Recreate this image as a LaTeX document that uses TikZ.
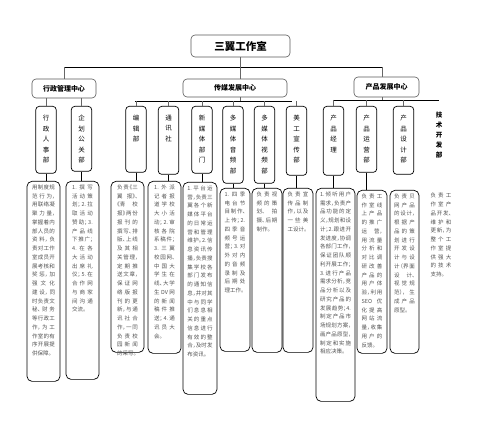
\documentclass[tikz,border=0pt]{standalone}
\usepackage{fontspec}
\setmainfont{Noto Sans CJK SC}
% narrow columns: half-width punctuation keeps about three characters per line
\newfontfamily\narrowcjk{Noto Sans CJK SC}[RawFeature=+halt]
\XeTeXlinebreaklocale "zh"
\XeTeXlinebreakskip=0pt plus 1pt

\begin{document}
\begin{tikzpicture}[x=1pt,y=-1pt,
  hub/.style={draw=black!65, line width=0.6pt, rounded corners=4pt, inner sep=0pt, font=\bfseries\fontsize{7}{8}\selectfont},
  topbox/.style={hub, font=\bfseries\fontsize{10.5}{12}\selectfont},
  dept/.style={draw=black, line width=0.7pt, rounded corners=3.5pt, inner sep=0pt, anchor=north, minimum width=20.5pt},
  vtext/.style={anchor=north, align=center, inner sep=0pt, font=\fontsize{6.5}{10.5}\selectfont},
  desc/.style={draw=black, line width=0.7pt, rounded corners=5pt, inner sep=0pt, anchor=north},
  dtext/.style={anchor=north, align=justify, inner sep=0pt, text=black!68, text width=20.6pt, font=\narrowcjk\fontsize{5.5}{8.75}\selectfont},
  link/.style={draw=black!60, line width=0.5pt},
  bus/.style={draw=black, line width=0.9pt}
]
\useasboundingbox (0,0) rectangle (496,425);

% ---------- top level ----------
\node[topbox, minimum width=99pt, minimum height=22pt] (top) at (240.5,46) {三翼工作室};

\node[hub, minimum width=64pt, minimum height=19pt] (xz) at (64,88.5) {行政管理中心};
\node[hub, minimum width=104pt, minimum height=18pt] (cm) at (235,88) {传媒发展中心};
\node[hub, minimum width=65pt, minimum height=20pt] (cp) at (386.5,87) {产品发展中心};

\coordinate (busL) at (64,67.3);
\coordinate (busR) at (382,67.3);
\draw[link] (top.south -| 240.7,0) -- (240.7,67.3);
\draw[bus] (busL) -- (busR);
\draw[link] (busL) -- (xz.north -| busL);
\draw[link] (240.7,67.3) -- (cm.north -| 240.7,0);
\draw[link] (busR) -- (cp.north -| busR);

% ---------- departments ----------
\node[dept, minimum height=67pt] (xzrs) at (46,106) {};
\node[vtext] at ([yshift=-9pt]xzrs.north) {行\\政\\人\\事\\部};
\node[dept, minimum height=65pt] (qhgg) at (81.5,106) {};
\node[vtext] at ([yshift=-9pt]qhgg.north) {企\\划\\公\\关\\部};

\node[dept, minimum height=66pt] (bjb) at (136,106) {};
\node[vtext] at ([yshift=-9pt]bjb.north) {编\\辑\\部};
\node[dept, minimum height=68pt] (txs) at (168.5,106) {};
\node[vtext] at ([yshift=-9pt]txs.north) {通\\讯\\社};
\node[dept, minimum height=67pt] (xmt) at (202,106) {};
\node[vtext] at ([yshift=-9pt]xmt.north) {新\\媒\\体\\部\\门};
\node[dept, minimum height=77pt] (ypb) at (233,106) {};
\node[vtext] at ([yshift=-9pt]ypb.north) {多\\媒\\体\\音\\频\\部};
\node[dept, minimum height=77pt] (spb) at (264.5,106) {};
\node[vtext] at ([yshift=-9pt]spb.north) {多\\媒\\体\\视\\频\\部};
\node[dept, minimum height=69pt] (mgb) at (296.5,106) {};
\node[vtext] at ([yshift=-9pt]mgb.north) {美\\工\\宣\\传\\部};

\node[dept, minimum height=69pt] (cpjl) at (333.5,106) {};
\node[vtext] at ([yshift=-9pt]cpjl.north) {产\\品\\经\\理};
\node[dept, minimum height=66pt] (cpyy) at (366.5,106) {};
\node[vtext] at ([yshift=-9pt]cpyy.north) {产\\品\\运\\营\\部};
\node[dept, minimum height=68pt] (cpsj) at (403.5,106) {};
\node[vtext] at ([yshift=-9pt]cpsj.north) {产\\品\\设\\计\\部};
\node[vtext, font=\bfseries\fontsize{6.5}{10}\selectfont] (jskf) at (439,112) {技\\术\\开\\发\\部};

% ---------- links centre -> departments ----------
\draw[link] (xzrs.north |- xz.south) -- (xzrs.north);
\draw[link] (qhgg.north |- xz.south) -- (qhgg.north);

\coordinate (cmbL) at (135,101);
\coordinate (cmbR) at (292,101);
\draw[bus, line width=0.8pt] (cmbL) -- (cmbR);
\draw[link] (cm.south -| 240.7,0) -- (240.7,101);
\foreach \d in {bjb,txs,xmt,ypb,spb,mgb}
  \draw[link] (\d.north |- cmbL) -- (\d.north);

\coordinate (cpbL) at (334,100);
\coordinate (cpbR) at (439,100);
\draw[bus, line width=0.8pt] (cpbL) -- (cpbR);
\draw[link] (cp.south -| 382,0) -- (382,100);
\foreach \d in {cpjl,cpyy,cpsj}
  \draw[link] (\d.north |- cpbL) -- (\d.north);

% ---------- duty descriptions ----------
\node[desc, minimum width=33pt, minimum height=200pt] (xzrsd) at (43.5,181) {};
\node[dtext, text width=23pt] at ([yshift=-3.5pt]xzrsd.north) {用制度规范行为，用联络凝聚力量，掌握着内部人员的资料，负责对工作室成员开展考核和奖惩，加强文化建设，同时负责文秘、财务等行政工作，为工作室的有序开展提供保障。};

\node[desc, minimum width=33pt, minimum height=198pt] (qhggd) at (82.5,181) {};
\node[dtext] at ([yshift=-3.5pt]qhggd.north) {1.撰写活动策划；2.拉取活动赞助；3.产品线下推广；4.在各大活动出席礼仪；5.在合作网与商家间沟通交流。};

\node[desc, minimum width=33pt, minimum height=171pt] (bjbd) at (127.5,181) {};
\node[dtext] at ([yshift=-3.5pt]bjbd.north) {负责《三翼报》、《青校报》两份报刊的撰写、排版、上线及其相关管理，定期推送文章，保证网络版报刊的更新，与通讯社合作，一同负责校园新闻的采写。};

\node[desc, minimum width=33pt, minimum height=172pt] (txsd) at (164.5,181) {};
\node[dtext] at ([yshift=-3.5pt]txsd.north) {1.外派记者报道学校大小活动；2.审核各院系稿件；3.三翼校园网、中国大学生在线、大学生DV网的新闻稿件推送；4.通讯员大会。};

\node[desc, minimum width=34pt, minimum height=212pt] (xmtd) at (200,182) {};
\node[dtext, text width=25.5pt] at ([yshift=-3.5pt]xmtd.north) {1.平台运营，负责三翼各个新媒体平台的日常运营和管理维护。2.信息资讯传播，负责搜集学校各部门发布的通知信息，并对其中与同学们息息相关的重点信息进行有效的整合，及时发布资讯。};

\node[desc, minimum width=30pt, minimum height=163pt] (ypbd) at (235,188) {};
\node[dtext] at ([yshift=-3.5pt]ypbd.north) {1.四季电台节目制作、上传；2.四季音频号运营；3.对外对内的音频录制及后期处理工作。};

\node[desc, minimum width=30pt, minimum height=164pt] (spbd) at (267,188) {};
\node[dtext] at ([yshift=-3.5pt]spbd.north) {负责视频的策划、拍摄、后期制作。};

\node[desc, minimum width=30pt, minimum height=164pt] (mgbd) at (298,188) {};
\node[dtext] at ([yshift=-3.5pt]mgbd.north) {负责宣传品制作，以及一些美工设计。};

\node[desc, minimum width=39pt, minimum height=213pt] (cpjld) at (335.5,188) {};
\node[dtext, text width=31pt] at ([yshift=-3.5pt]cpjld.north) {1.倾听用户需求，负责产品功能的定义，规划和设计；2.跟进开发进度，协调各部门工作，保证团队顺利开展工作；3.进行产品需求分析，竞品分析以及研究产品的发展趋势；4.制定产品市场规划方案，画产品原型，制定和实施相应决策。};

\node[desc, minimum width=30pt, minimum height=163pt] (cpyyd) at (372,190) {};
\node[dtext] at ([yshift=-3.5pt]cpyyd.north) {负责工作室线上产品的推广运营，用流量分析和对比调研改善产品的用户体验，利用SEO优化提高网站流量，收集用户的反馈。};

\node[desc, minimum width=29pt, minimum height=163pt] (cpsjd) at (404.5,190) {};
\node[dtext] at ([yshift=-3.5pt]cpsjd.north) {负责贝网产品的设计，根据产品的策划进行开发设计与设计（界面设计、视觉规范），生成产品原型。};

\node[dtext] (jskfd) at (441,193) {负责工作室产品开发、维护和更新，为整个工作室提供强大的技术支持。};

% ---------- links departments -> descriptions ----------
\foreach \d in {xzrs,qhgg,bjb,txs,xmt,ypb,spb,mgb,cpjl,cpyy}
  \draw[link, draw=black, line width=0.6pt] (\d.south) -- (\d.south |- \d d.north);
\end{tikzpicture}
\end{document}
